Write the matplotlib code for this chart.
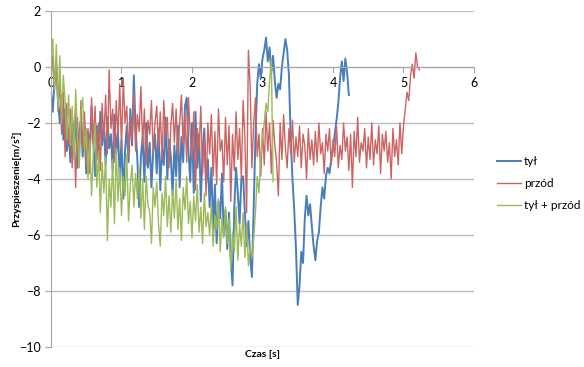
import numpy as np
import matplotlib
matplotlib.use("Agg")
import matplotlib.pyplot as plt

plt.rcParams['font.family'] = ['Lato', 'DejaVu Sans']

DT = 0.025  # sampling step [s]

tyl = [
    -0.9, -1.6, -0.5, 0.1, -1.2, -2.0, -1.0, -2.6, -1.5, -3.0,
    -2.2, -3.4, -1.8, -2.9, -1.5, -3.6, -2.4, -1.9, -3.2, -2.1,
    -3.8, -2.3, -3.0, -1.4, -2.7, -3.9, -2.1, -3.3, -1.6, -2.8,
    -2.0, -3.5, -1.8, -2.9, -2.4, -3.7, -1.7, -3.1, -2.3, -4.0,
    -2.6, -4.7, -3.0, -2.1, -3.4, -1.5, -2.8, -0.3, -2.2, -3.3,
    -5.0, -3.2, -2.5, -4.1, -2.0, -3.6, -2.7, -4.3, -3.0, -2.4,
    -3.8, -2.2, -4.4, -2.9, -3.5, -1.8, -4.0, -2.6, -3.2, -4.6,
    -2.8, -3.9, -2.1, -4.3, -2.5, -3.4, -1.4, -1.1, -3.0, -4.1,
    -2.0, -4.5, -1.6, -3.6, -2.4, -4.8, -3.0, -2.2, -4.2, -3.3,
    -5.0, -3.6, -5.8, -4.2, -6.3, -4.8, -5.4, -3.8, -6.0, -5.1,
    -6.5, -5.2, -6.9, -7.8, -5.0, -3.6, -4.5, -5.6, -4.0, -3.9,
    -5.2, -6.4, -5.5, -6.8, -7.5, -5.0, -2.5, -0.6, 0.1, -0.4,
    0.3, 0.6, 1.05, 0.2, 0.7, -0.2, 0.4, -0.5, -1.1, -0.6,
    -0.8, 0.0, 0.5, 1.0, 0.6, -0.3, -2.5, -4.0, -5.1, -6.5,
    -8.5, -7.8, -6.6, -7.0, -5.4, -4.6, -5.3, -4.9, -5.7, -6.4,
    -6.9, -6.2, -5.9, -5.0, -4.3, -4.7, -3.9, -3.6, -3.8, -3.3,
    -2.9, -2.4, -1.9, -1.3, -0.4, 0.2, -0.5, 0.3, -0.2, -1.0,
]

przod = [
    -0.6, 0.4, -0.8, 0.3, -1.6, -0.4, -2.4, -0.9, -3.2, -1.3,
    -2.8, -1.5, -3.6, -2.0, -4.3, -1.8, -3.4, -1.2, -2.9, -1.6,
    -3.5, -2.2, -3.8, -1.1, -2.7, -1.4, -3.3, -2.0, -3.7, -1.3,
    -2.6, -1.0, -3.1, -0.1, -2.2, -1.5, -3.4, -1.2, -2.5, -0.6,
    -2.9, -0.4, -2.0, -1.4, -3.2, -1.8, -2.6, -0.9, -3.0, -1.7,
    -2.3, -0.7, -2.8, -1.5, -3.5, -1.9, -2.4, -1.2, -3.1, -2.0,
    -1.4, -2.9, -1.6, -3.3, -1.2, -2.5, -1.8, -3.6, -2.1, -1.3,
    -2.7, -1.5, -3.2, -2.0, -1.0, -2.8, -1.7, -3.4, -1.1, -2.4,
    -3.3, -1.6, -4.4, -2.2, -3.0, -1.4, -3.8, -2.5, -4.6, -2.0,
    -3.1, -1.7, -3.9, -2.3, -4.2, -1.5, -3.0, -2.6, -4.1, -1.8,
    -3.5, -2.1, -4.8, -2.4, -3.7, -1.6, -3.3, -2.2, -4.0, -1.2,
    -2.5, -5.2, 0.6, -0.7, -3.6, -2.0, -1.1, -3.2, -2.4, -3.9,
    -2.2, -3.5, -1.6, -3.0, -2.0, -3.8, -1.9, -2.8, -3.4, -4.6,
    -2.0, -3.3, -1.7, -2.9, -3.6, -2.2, -3.1, -1.9, -3.4, -2.5,
    -3.2, -2.1, -3.6, -2.4, -2.8, -4.0, -2.2, -3.3, -2.6, -3.5,
    -2.3, -3.4, -2.0, -3.1, -2.7, -3.8, -2.4, -3.0, -2.2, -3.5,
    -2.6, -3.2, -2.1, -3.6, -2.8, -3.3, -2.0, -3.0, -2.5, -3.7,
    -2.4, -4.3, -2.3, -3.2, -1.8, -3.4, -2.7, -3.0, -2.2, -3.6,
    -2.5, -3.3, -2.0, -3.5, -2.6, -3.1, -2.1, -3.8, -2.4, -3.0,
    -2.3, -3.4, -2.7, -4.0, -2.2, -3.2, -2.6, -3.5, -2.0, -3.1,
    -2.1, -1.5, -0.9, -1.2, -0.3, 0.1, -0.4, 0.5, 0.0, -0.1,
]

tyl_przod = [
    0.2, 1.0, -0.8, 0.8, -1.5, 0.4, -2.0, -0.3, -1.2, -2.6,
    -1.0, -2.8, -1.4, -3.3, -0.8, -2.5, -3.6, -1.6, -1.1, -3.0,
    -2.2, -4.0, -2.6, -4.6, -3.1, -2.0, -4.3, -3.0, -5.2, -3.4,
    -4.5, -3.2, -6.2, -4.0, -5.0, -3.3, -5.6, -2.9, -4.8, -3.6,
    -5.3, -3.9, -4.6, -3.1, -5.5, -4.2, -3.5, -5.0, -3.8, -4.7,
    -3.6, -5.4, -4.0, -5.8, -3.9, -4.9, -5.2, -6.3, -4.3, -5.0,
    -4.1, -5.6, -6.4, -4.5, -5.3, -3.9, -5.7, -4.6, -5.9, -4.4,
    -5.4, -4.0, -5.8, -4.7, -6.2, -4.3, -5.1, -3.9, -5.6, -4.8,
    -6.1, -4.6, -5.5, -4.2, -5.9, -5.0, -6.3, -4.5, -5.7, -5.2,
    -6.0, -4.9, -6.4, -5.3, -5.8, -4.7, -6.6, -5.4, -6.1, -5.0,
    -6.3, -5.4, -7.2, -5.9, -6.6, -5.0, -6.9, -5.6, -6.4, -5.2,
    -6.8, -5.6, -7.1, -6.4, -6.8, -6.1, -5.2, -3.9, -4.5, -3.2,
    -2.5, -2.0, -1.3, -1.6, -0.5, 0.25, -4.1,
]

series_names = ['tył', 'przód', 'tył + przód']
series_colors = ['#4A7EBB', '#CC6462', '#9BBB59']
series_values = [tyl, przod, tyl_przod]

x_ticks = [0, 1, 2, 3, 4, 5, 6]
y_ticks = [2, 0, -2, -4, -6, -8, -10]

fig = plt.figure(figsize=(5.84, 3.67), dpi=100)
ax = fig.add_axes([51/584, 20/367, 423/584, 336/367])

for name, col, vals in zip(series_names, series_colors, series_values):
    t = np.arange(len(vals)) * DT
    lw = 1.4 if name == 'tył' else 1.0
    ax.plot(t, vals, color=col, lw=lw, label=name)

ax.set_xlim(0, 6)
ax.set_ylim(-10, 2)
ax.set_xticks(x_ticks)
ax.set_yticks(y_ticks)
ax.yaxis.grid(True, color='#BFBFBF', lw=1.0)
ax.set_axisbelow(True)
for s in ['top', 'right']:
    ax.spines[s].set_visible(False)
ax.spines['bottom'].set_position(('data', 0))
ax.spines['bottom'].set_color('#A6A6A6')
ax.spines['left'].set_color('#A6A6A6')
ax.tick_params(axis='both', colors='#A6A6A6', labelcolor='black', labelsize=9, length=4, width=0.8)
ax.tick_params(axis='x', pad=3)

ax.set_ylabel('Przyspieszenie[m/s²]', fontsize=7.5, fontweight='bold')
ax.set_xlabel('Czas [s]', fontsize=7.5, fontweight='bold')
ax.xaxis.set_label_coords(0.5, -0.01)
ax.yaxis.set_label_coords(-0.07, 0.5)

fig.legend(loc='upper left', bbox_to_anchor=(497/584, 1 - 156/367), frameon=False,
           fontsize=8.5, handlelength=2.0, handletextpad=0.3, labelspacing=0.95,
           borderpad=0, borderaxespad=0)

fig.savefig('out.png', dpi=100)
